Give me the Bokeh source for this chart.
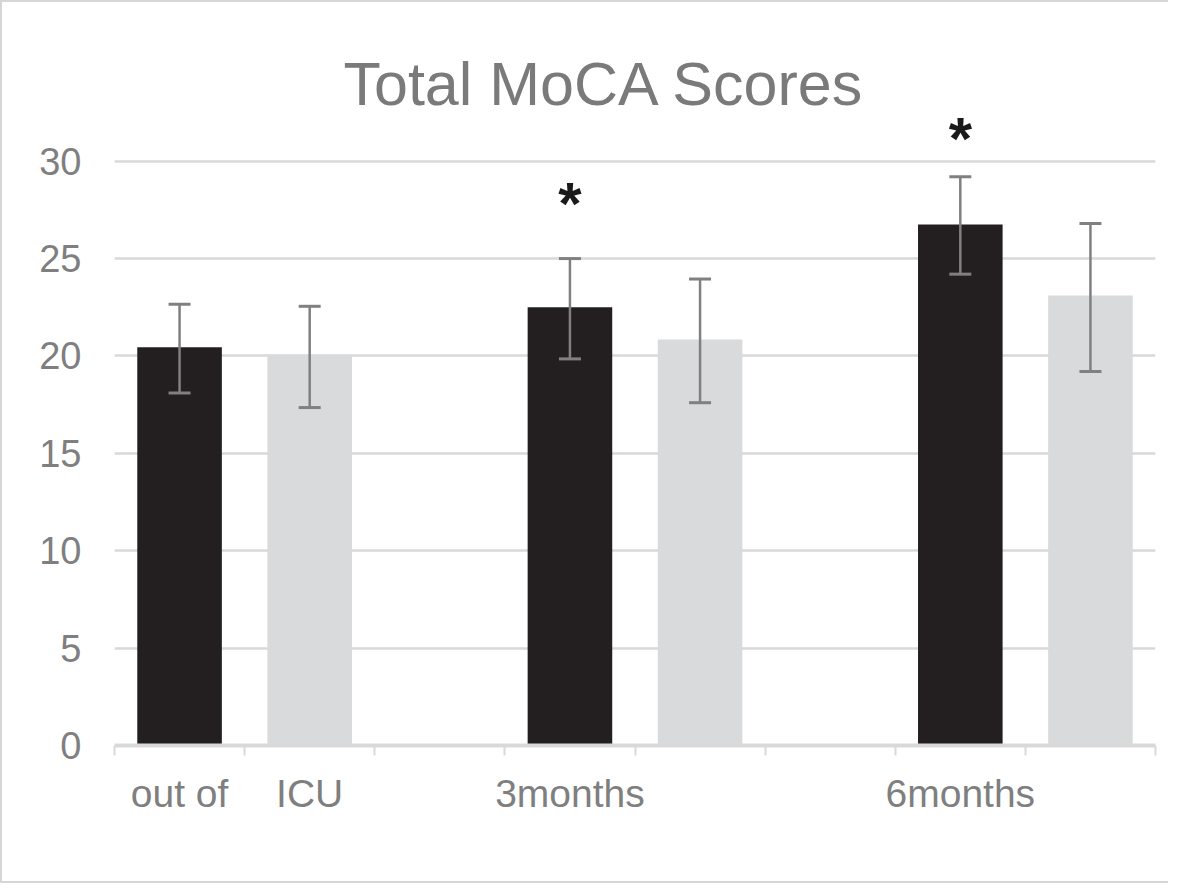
from bokeh.plotting import figure
from bokeh.models import Range1d, FixedTicker, ColumnDataSource, Whisker, TeeHead
from bokeh.core.properties import value
from bokeh.embed import file_html
from bokeh.resources import INLINE

# ---- data ----
groups = ["out of ICU", "3months", "6months"]
slot_labels = ["out of", "ICU", "", "3months", "", "", "6months", ""]
y_ticks = [0, 5, 10, 15, 20, 25, 30]

black_mean = [20.45, 22.5, 26.75]
black_lo = [18.1, 19.85, 24.2]
black_hi = [22.65, 25.0, 29.2]

gray_mean = [20.05, 20.85, 23.1]
gray_lo = [17.35, 17.6, 19.2]
gray_hi = [22.55, 23.95, 26.8]

star_groups = ["3months", "6months"]
star_y = [28.25, 31.6]

FONT = "Liberation Sans"
TXT = "#7f7f7f"
GRID = "#d9d9d9"

n_slots = len(slot_labels)
black_x = [3 * i for i in range(len(groups))]
gray_x = [3 * i + 1 for i in range(len(groups))]
star_x = [3 * groups.index(g) for g in star_groups]

p = figure(width=1168, height=883,
           x_range=Range1d(-0.5, n_slots - 0.5), y_range=Range1d(0, 32.5),
           output_backend="svg", toolbar_location=None,
           min_border_left=112, min_border_right=15,
           min_border_top=110, min_border_bottom=140)
p.styles = {"border-left": "2px solid #d6d6d6", "border-top": "2px solid #d6d6d6",
            "border-bottom": "2px solid #d6d6d6"}
p.outline_line_color = None
p.background_fill_color = "white"
p.border_fill_color = "white"

# title
p.title.text = "Total MoCA Scores"
p.title.align = "left"
p.title.offset = 229
p.title.standoff = -10
p.title.text_font = FONT
p.title.text_font_size = "61px"
p.title.text_font_style = "normal"
p.title.text_color = "#7a7a7a"

# grid
p.xgrid.visible = False
p.ygrid[0].ticker = FixedTicker(ticks=y_ticks)
p.ygrid.grid_line_color = GRID
p.ygrid.grid_line_width = 2.5

# y axis
ya = p.yaxis[0]
ya.ticker = FixedTicker(ticks=y_ticks)
ya.axis_line_color = None
ya.major_tick_line_color = None
ya.minor_tick_line_color = None
ya.major_label_standoff = 27
ya.major_label_text_font = FONT
ya.major_label_text_font_size = "38px"
ya.major_label_text_color = TXT

# x axis: labels at slots, tick marks at slot boundaries (minor ticks)
label_ticks = [i for i, s in enumerate(slot_labels) if s]
xa = p.xaxis[0]
xa.ticker = FixedTicker(ticks=label_ticks,
                        minor_ticks=[i - 0.5 for i in range(n_slots + 1)])
xa.major_label_overrides = {i: slot_labels[i] for i in label_ticks}
xa.axis_line_color = GRID
xa.axis_line_width = 4
xa.major_tick_line_color = None
xa.major_tick_in = 0
xa.major_tick_out = 0
xa.minor_tick_line_color = GRID
xa.minor_tick_line_width = 2
xa.minor_tick_in = 0
xa.minor_tick_out = 10
xa.major_label_standoff = 16
xa.major_label_text_font = FONT
xa.major_label_text_font_size = "39px"
xa.major_label_text_color = TXT

# bars
p.vbar(x=black_x, top=black_mean, bottom=0, width=0.65, fill_color="#231f20", line_color=None)
p.vbar(x=gray_x, top=gray_mean, bottom=0, width=0.65, fill_color="#d9dadb", line_color=None)

# error bars
for xs, lo, hi in [(black_x, black_lo, black_hi), (gray_x, gray_lo, gray_hi)]:
    src = ColumnDataSource(dict(x=xs, lower=lo, upper=hi))
    w = Whisker(base="x", lower="lower", upper="upper", source=src, dimension="height",
                line_color="#808080", line_width=2.5, level="annotation",
                upper_head=TeeHead(size=22, line_color="#808080", line_width=3),
                lower_head=TeeHead(size=22, line_color="#808080", line_width=3))
    p.add_layout(w)

# significance asterisks
p.text(x=star_x, y=star_y, text=["*"] * len(star_x), text_font=value(FONT),
       text_font_style="bold", text_font_size="60px", text_color="#1a1a1a",
       text_align="center", text_baseline="middle", y_offset=8)

open("out.html", "w").write(file_html(p, INLINE))
